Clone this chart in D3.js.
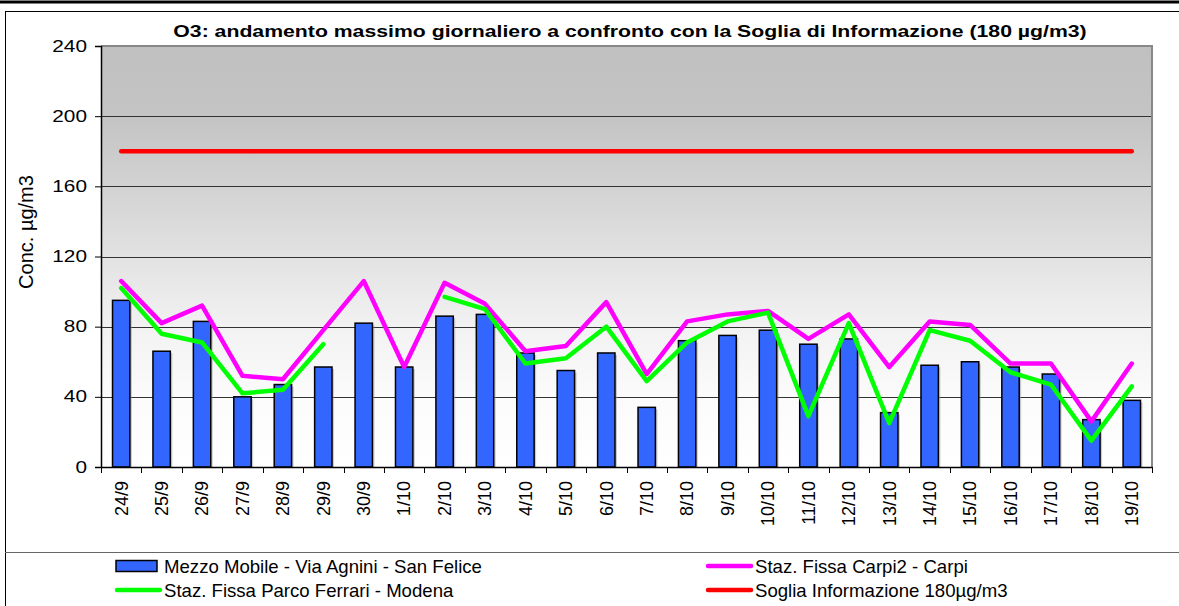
<!DOCTYPE html>
<html><head><meta charset="utf-8">
<script src="https://cdn.jsdelivr.net/npm/d3@7"></script>
<style>
body{margin:0;background:#fff}
svg{display:block;font-family:"Liberation Sans",Arial,sans-serif}
</style>
</head><body>
<svg id="c" width="1179" height="606"></svg>
<script>
const categories = ["24/9","25/9","26/9","27/9","28/9","29/9","30/9","1/10","2/10","3/10","4/10","5/10","6/10","7/10","8/10","9/10","10/10","11/10","12/10","13/10","14/10","15/10","16/10","17/10","18/10","19/10"];
const mezzoMobile = [95,66,83,40,47,57,82,57,86,87,65,55,65,34,72,75,78,70,73,31,58,60,57,53,27,38];
const carpi = [106,82,92,52,50,78,106,57,105,93,66,69,94,53,83,87,89,73,87,57,83,81,59,59,26,59];
const modena = [102,76,71,42,44,70,null,null,97,90,59,62,80,49,71,83,88,29,82,25,78,72,54,47,15,46];
const soglia = [180,180,180,180,180,180,180,180,180,180,180,180,180,180,180,180,180,180,180,180,180,180,180,180,180,180];
const yTicks = [0,40,80,120,160,200,240];
const seriesNames = ["Mezzo Mobile - Via Agnini - San Felice","Staz. Fissa Carpi2 - Carpi","Staz. Fissa Parco Ferrari - Modena","Soglia Informazione 180µg/m3"];
const title = "O3: andamento massimo giornaliero a confronto con la Soglia di Informazione (180 µg/m3)";
const yTitle = "Conc. µg/m3";

const svg = d3.select("#c");
const W = 1179, H = 606;
const plot = {l:101, r:1152, t:46, b:467};

const x = d3.scaleBand().domain(categories).range([plot.l, plot.r]).padding(0);
const y = d3.scaleLinear().domain([0,240]).range([plot.b, plot.t]);

// frame lines
svg.append("line").attr("x1",0).attr("x2",W).attr("y1",2).attr("y2",2).attr("stroke","#000").attr("stroke-width",3);
svg.append("line").attr("x1",5).attr("x2",W).attr("y1",11.5).attr("y2",11.5).attr("stroke","#000").attr("stroke-width",1);
svg.append("line").attr("x1",5.5).attr("x2",5.5).attr("y1",11).attr("y2",H).attr("stroke","#000").attr("stroke-width",1);
svg.append("line").attr("x1",5).attr("x2",W).attr("y1",552.5).attr("y2",552.5).attr("stroke","#666").attr("stroke-width",1);

// gradient background
const defs = svg.append("defs");
const grad = defs.append("linearGradient").attr("id","bg").attr("x1",0).attr("y1",0).attr("x2",0).attr("y2",1);
[[0,"#c0c0c0"],[0.17,"#c4c4c4"],[0.33,"#d2d2d2"],[0.5,"#e2e2e2"],[0.67,"#f2f2f2"],[0.83,"#fbfbfb"],[1,"#ffffff"]]
  .forEach(([o,c])=>grad.append("stop").attr("offset",o).attr("stop-color",c));
svg.append("rect").attr("x",plot.l).attr("y",plot.t).attr("width",plot.r-plot.l).attr("height",plot.b-plot.t).attr("fill","url(#bg)");

// gridlines
svg.append("g").selectAll("line").data(yTicks.filter(v=>v>0 && v<240)).join("line")
  .attr("x1",plot.l).attr("x2",plot.r).attr("y1",d=>Math.round(y(d))+0.5).attr("y2",d=>Math.round(y(d))+0.5)
  .attr("stroke","#333").attr("stroke-width",1);

// plot border top/right
svg.append("path").attr("d",`M${plot.l},${plot.t}H${plot.r}V${plot.b}`).attr("fill","none").attr("stroke","#888").attr("stroke-width",2);

// y axis
const yAxis = d3.axisLeft(y).tickValues(yTicks).tickSize(6).tickPadding(8).tickFormat(d3.format("d"));
const ga = svg.append("g").attr("transform",`translate(${plot.l},0)`).call(yAxis);
ga.select(".domain").attr("stroke","#000").attr("stroke-width",1.5);
ga.selectAll(".tick line").attr("stroke","#000");
ga.selectAll(".tick text").attr("font-size",16).attr("fill","#000").attr("font-family","Liberation Sans, Arial, sans-serif")
  .each(function(){ const t=d3.select(this); const xx=+t.attr("x"); t.attr("transform",`translate(${xx},0) scale(1.3,1)`).attr("x",0); });

// bars shadow + bars
const bw = x.bandwidth()*0.43;
svg.append("g").selectAll("rect").data(mezzoMobile).join("rect")
  .attr("x",(d,i)=>x(categories[i])+x.bandwidth()/2-bw/2+2).attr("y",d=>y(d)+2)
  .attr("width",bw).attr("height",d=>plot.b-y(d)-2).attr("fill","#999").attr("opacity",0.5);
svg.append("g").selectAll("rect").data(mezzoMobile).join("rect")
  .attr("x",(d,i)=>x(categories[i])+x.bandwidth()/2-bw/2).attr("y",d=>y(d))
  .attr("width",bw).attr("height",d=>plot.b-y(d)).attr("fill","#3366ff").attr("stroke","#000").attr("stroke-width",1.5);

// x axis
const xAxis = d3.axisBottom(x).tickSize(0).tickSizeOuter(0).tickFormat(d=>d);
const gx = svg.append("g").attr("transform",`translate(0,${plot.b})`).call(xAxis);
gx.select(".domain").attr("stroke","#000").attr("stroke-width",1.5);
gx.selectAll(".tick text").attr("font-size",18).attr("fill","#000").attr("font-family","Liberation Sans, Arial, sans-serif")
  .attr("text-anchor","end").attr("transform","rotate(-90)").attr("x",-14).attr("y",0).attr("dy","0.35em");
// boundary ticks
const bounds = categories.map(c=>x(c)).concat([plot.r]);
svg.append("g").selectAll("line").data(bounds).join("line")
  .attr("x1",d=>Math.round(d)+0.5).attr("x2",d=>Math.round(d)+0.5).attr("y1",plot.b).attr("y2",plot.b+6)
  .attr("stroke","#000").attr("stroke-width",1);

// lines
const cx = i => x(categories[i]) + x.bandwidth()/2;
const lineGen = d3.line().defined(d=>d!=null).x((d,i)=>cx(i)).y(d=>y(d));
svg.append("path").datum(soglia).attr("d",lineGen).attr("fill","none").attr("stroke","#ff0000").attr("stroke-width",4.5).attr("stroke-linecap","round");
svg.append("path").datum(carpi).attr("d",lineGen).attr("fill","none").attr("stroke","#ff00ff").attr("stroke-width",4.5).attr("stroke-linejoin","round").attr("stroke-linecap","round");
svg.append("path").datum(modena).attr("d",lineGen).attr("fill","none").attr("stroke","#00ff00").attr("stroke-width",4.5).attr("stroke-linejoin","round").attr("stroke-linecap","round");

// title
svg.append("text").attr("transform","translate(630,37) scale(1.28,1)").attr("text-anchor","middle")
  .attr("font-size",16.6).attr("font-weight","bold").attr("fill","#000").text(title);

// y title
svg.append("text").attr("transform","translate(33,232) rotate(-90)").attr("text-anchor","middle")
  .attr("font-size",20).attr("fill","#000").text(yTitle);

// legend
const leg = svg.append("g");
const legItems = [
  {name:seriesNames[0], type:"bar", color:"#3366ff", lx:116, ly:566},
  {name:seriesNames[1], type:"line", color:"#ff00ff", lx:707, ly:566},
  {name:seriesNames[2], type:"line", color:"#00ff00", lx:116, ly:590},
  {name:seriesNames[3], type:"line", color:"#ff0000", lx:707, ly:590}
];
legItems.forEach(it=>{
  if(it.type==="bar"){
    leg.append("rect").attr("x",it.lx).attr("y",it.ly-5.5).attr("width",41).attr("height",11).attr("fill",it.color).attr("stroke","#000").attr("stroke-width",1.5);
  } else {
    leg.append("line").attr("x1",it.lx+1).attr("x2",it.lx+44).attr("y1",it.ly).attr("y2",it.ly).attr("stroke",it.color).attr("stroke-width",4.5).attr("stroke-linecap","round");
  }
  leg.append("text").attr("x",it.lx+48).attr("y",it.ly).attr("dy","0.35em").attr("font-size",18.6).attr("fill","#000").text(it.name);
});
</script>
</body></html>
